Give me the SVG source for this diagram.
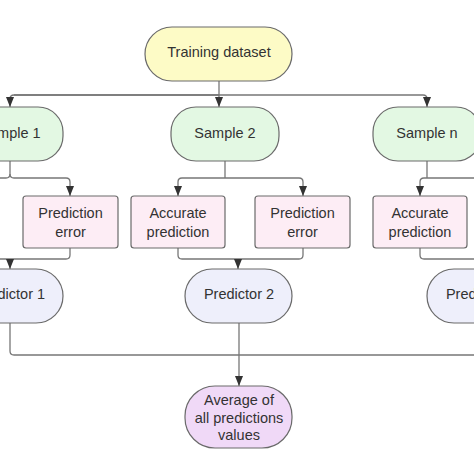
<svg xmlns="http://www.w3.org/2000/svg" width="474" height="474" viewBox="0 0 474 474">
<defs>
<marker id="arr" markerWidth="11" markerHeight="8" refX="10" refY="4" orient="auto" markerUnits="userSpaceOnUse" viewBox="0 0 11 8">
<path d="M0,0 L10,4 L0,8 Z" fill="#333"/>
</marker>
<style>
.n{stroke:#6a6a6a;stroke-width:1.2}
.y{fill:#fdfbc6}.g{fill:#e3f8e3}.p{fill:#fdedf5}.l{fill:#eeeffb}.v{fill:#f0d9f7}
text{font-family:"Liberation Sans",Arial,sans-serif;font-size:14.5px;fill:#333;text-anchor:middle}
.c path{fill:none;stroke:#777;stroke-width:1.3}
.a{marker-end:url(#arr)}
</style>
</defs>
<rect width="474" height="474" fill="#fff"/>
<g class="c">
<path d="M219,81 V95"/>
<path class="a" d="M14,95 H423 Q427,95 427,99 V107" />
<path class="a" d="M219,95 H14 Q10,95 10,99 V107"/>
<path class="a" d="M219,95 V107"/>
<path d="M10,161 V174 Q10,178 6,178 H0"/>
<path class="a" d="M10,174 Q10,178 14,178 H66 Q70,178 70,182 V196"/>
<path d="M225,161 V178"/>
<path class="a" d="M225,178 H182 Q178,178 178,182 V196"/>
<path class="a" d="M225,178 H299 Q303,178 303,182 V196"/>
<path d="M427,161 V178"/>
<path class="a" d="M474,178 H424 Q420,178 420,182 V196"/>
<path d="M70,248 V255 Q70,259 66,259 H0"/>
<path class="a" d="M10,259 V269"/>
<path d="M178,248 V255 Q178,259 182,259 H299 Q303,259 303,255 V248"/>
<path class="a" d="M238,259 V269"/>
<path d="M420,248 V255 Q420,259 424,259 H474"/>
<path d="M10,323 V351 Q10,355 14,355 H474"/>
<path d="M239,323 V355"/>
<path class="a" d="M239,355 V386"/>
</g>
<g id="training"><rect class="n y" x="145" y="27" width="147" height="54" rx="27"/><text x="219" y="57">Training dataset</text></g>
<g id="sample1"><rect class="n g" x="-45" y="107" width="108" height="54" rx="25"/><text x="10" y="138">Sample 1</text></g>
<g id="sample2"><rect class="n g" x="171" y="107" width="108" height="54" rx="25"/><text x="225" y="138">Sample 2</text></g>
<g id="samplen"><rect class="n g" x="373" y="107" width="108" height="54" rx="25"/><text x="427" y="138">Sample n</text></g>
<g id="err1"><rect class="n p" x="23" y="196" width="95" height="52" rx="3"/><text x="70.5" y="218">Prediction</text><text x="70.5" y="237">error</text></g>
<g id="acc2"><rect class="n p" x="131" y="196" width="94" height="52" rx="3"/><text x="178" y="218">Accurate</text><text x="178" y="237">prediction</text></g>
<g id="err2"><rect class="n p" x="255" y="196" width="95" height="52" rx="3"/><text x="302.5" y="218">Prediction</text><text x="302.5" y="237">error</text></g>
<g id="accn"><rect class="n p" x="373" y="196" width="94" height="52" rx="3"/><text x="420" y="218">Accurate</text><text x="420" y="237">prediction</text></g>
<g id="pred1"><rect class="n l" x="-44" y="269" width="107" height="54" rx="27"/><text x="10" y="299">Predictor 1</text></g>
<g id="pred2"><rect class="n l" x="185" y="269" width="107" height="54" rx="27"/><text x="239" y="299">Predictor 2</text></g>
<g id="predn"><rect class="n l" x="427" y="269" width="107" height="54" rx="27"/><text x="481" y="299">Predictor n</text></g>
<g id="average"><rect class="n v" x="185" y="386" width="107" height="62" rx="30"/><text x="239" y="405">Average of</text><text x="239" y="423">all predictions</text><text x="239" y="440">values</text></g>
</svg>
